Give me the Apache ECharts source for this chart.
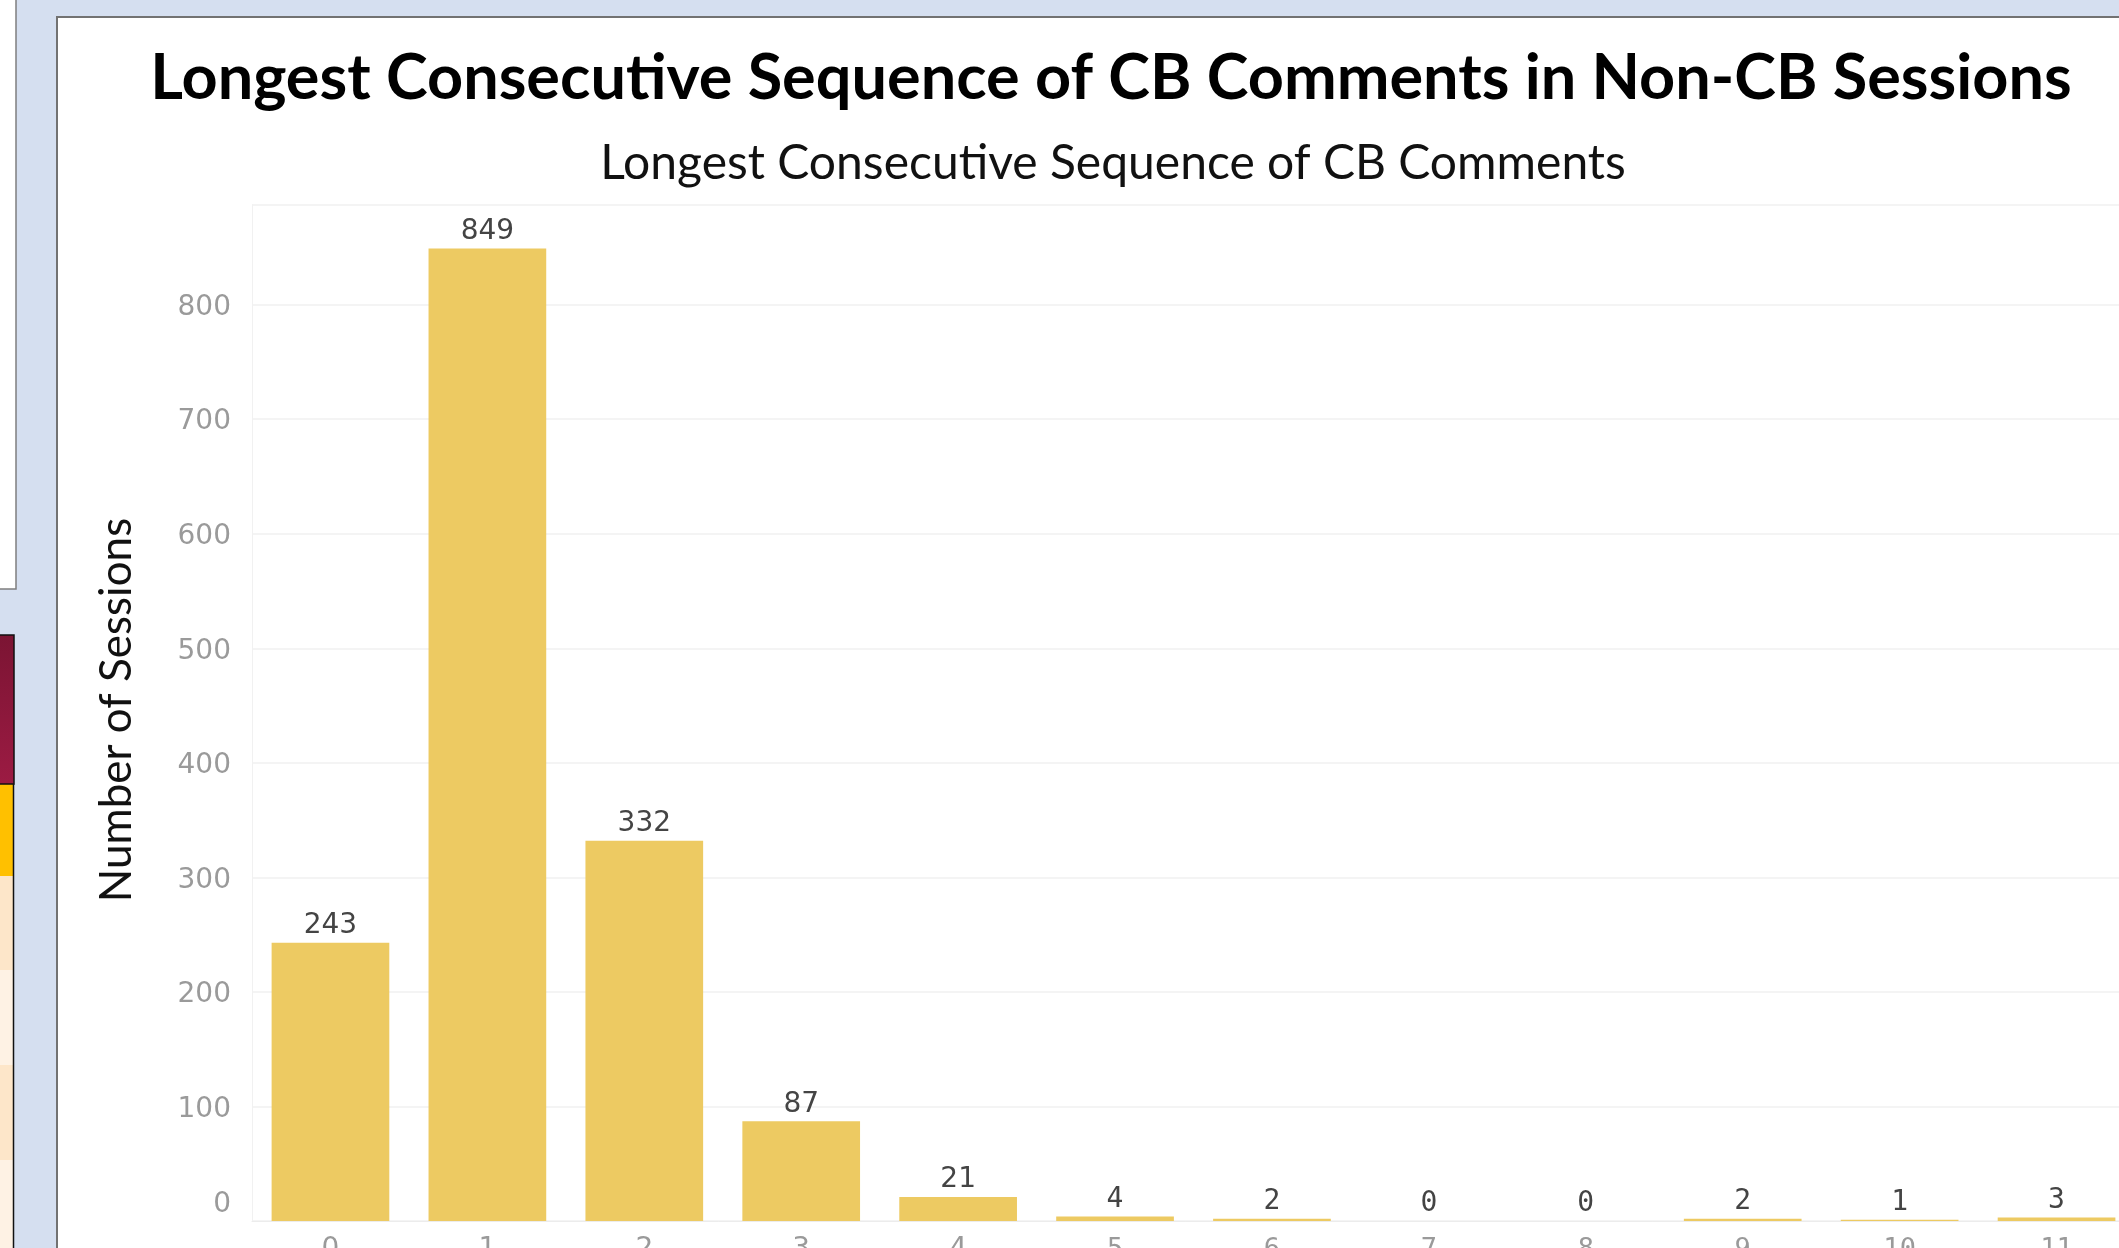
<!DOCTYPE html>
<html>
<head>
<meta charset="utf-8">
<title>Longest Consecutive Sequence of CB Comments in Non-CB Sessions</title>
<script src="https://cdn.jsdelivr.net/npm/echarts@6/dist/echarts.min.js"></script>
<style>
  html, body { margin: 0; padding: 0; background: #d5dff0; }
  #chart { width: 2119px; height: 1248px; }
</style>
</head>
<body>
<div id="chart"></div>
<script>
// Longest run of consecutive CB comments (x) and how many non-CB sessions had it (y)
const categories = ['0', '1', '2', '3', '4', '5', '6', '7', '8', '9', '10', '11'];
const sessionCounts = [243, 849, 332, 87, 21, 4, 2, 0, 0, 2, 1, 3];
const yTickValues = [0, 100, 200, 300, 400, 500, 600, 700, 800];

const mainTitle = 'Longest Consecutive Sequence of CB Comments in Non-CB Sessions';
const subTitle = 'Longest Consecutive Sequence of CB Comments';
const yAxisTitle = 'Number of Sessions';

const chart = echarts.init(document.getElementById('chart'), null, { renderer: 'canvas' });

const geoFont = '"DejaVu Sans", sans-serif';
const monoFont = '"DejaVu Sans Mono", monospace';
const barColor = '#edca62';

// slide furniture around the chart panel
const slideShapes = [
  // white sidebar panel, top-left
  { type: 'rect', shape: { x: -2, y: -2, width: 18, height: 591 },
    style: { fill: '#ffffff', stroke: '#7f7f7f', lineWidth: 1.5 }, z: 1 },
  // coloured side tabs
  { type: 'rect', shape: { x: -2, y: 635, width: 16, height: 149 },
    style: { fill: new echarts.graphic.LinearGradient(0, 0, 0, 1, [
      { offset: 0, color: '#7b1433' }, { offset: 1, color: '#9c1b43' }]),
      stroke: '#111111', lineWidth: 1.5 }, z: 2 },
  { type: 'rect', shape: { x: -2, y: 784, width: 15, height: 92 },
    style: { fill: '#ffc000' }, z: 1 },
  { type: 'rect', shape: { x: -2, y: 876, width: 15, height: 94 },
    style: { fill: '#fde6c9' }, z: 1 },
  { type: 'rect', shape: { x: -2, y: 970, width: 15, height: 95 },
    style: { fill: '#fef2e4' }, z: 1 },
  { type: 'rect', shape: { x: -2, y: 1065, width: 15, height: 95 },
    style: { fill: '#fde6c9' }, z: 1 },
  { type: 'rect', shape: { x: -2, y: 1160, width: 15, height: 95 },
    style: { fill: '#fef2e4' }, z: 1 },
  { type: 'line', shape: { x1: 13.5, y1: 784, x2: 13.5, y2: 1250 },
    style: { stroke: '#111111', lineWidth: 1.5 }, z: 2 },
  // main white panel holding the chart
  { type: 'rect', shape: { x: 57, y: 17, width: 2100, height: 1260 },
    style: { fill: '#ffffff', stroke: '#727272', lineWidth: 2 }, z: 0 },
  // headings
  { type: 'text', x: 1111, y: 79, z: 5,
    style: { text: mainTitle, fill: '#000000', font: 'bold 63px Lato, sans-serif',
      textAlign: 'center', textVerticalAlign: 'middle' } },
  { type: 'text', x: 1113, y: 164, z: 5,
    style: { text: subTitle, fill: '#111111', font: '48px Lato, sans-serif',
      textAlign: 'center', textVerticalAlign: 'middle' } },
  { type: 'text', x: 117, y: 710, rotation: Math.PI / 2, z: 5,
    style: { text: yAxisTitle, fill: '#111111', font: '44px Lato, sans-serif',
      textAlign: 'center', textVerticalAlign: 'middle' } }
];

const option = {
  backgroundColor: '#d5dff0',
  animation: false,
  graphic: { elements: slideShapes },
  grid: { left: 252, top: 205, width: 1883, height: 1016, outerBoundsMode: 'none', containLabel: false },
  xAxis: {
    type: 'category',
    data: categories,
    axisLine: { show: true, lineStyle: { color: '#ececec', width: 1 } },
    axisTick: { show: false },
    axisLabel: {
      margin: 15,
      color: '#9a9a9a',
      formatter: (v, i) => (i >= 5 ? '{m|' + v + '}' : '{g|' + v + '}'),
      rich: {
        g: { fontFamily: geoFont, fontSize: 28, color: '#9a9a9a' },
        m: { fontFamily: monoFont, fontSize: 27, color: '#9a9a9a' }
      }
    },
    z: 3
  },
  yAxis: {
    type: 'value',
    min: 0,
    max: 887,
    interval: 100,
    axisLine: { show: true, lineStyle: { color: '#f1f1f1', width: 1 } },
    axisTick: { show: false },
    splitLine: { show: true, lineStyle: { color: '#f0f0f0', width: 1.5 } },
    axisLabel: {
      margin: 21,
      showMaxLabel: false,
      formatter: v => (yTickValues.indexOf(v) < 0 ? '' : (v === 0 ? '{z|0}' : '{n|' + v + '}')),
      rich: {
        n: { fontFamily: geoFont, fontSize: 28, color: '#9a9a9a', padding: [0, 0, -6, 0] },
        z: { fontFamily: geoFont, fontSize: 28, color: '#9a9a9a', padding: [0, 0, 32, 0] }
      }
    },
    z: 3
  },
  series: [{
    type: 'bar',
    data: sessionCounts,
    barWidth: '75%',
    itemStyle: { color: barColor },
    label: {
      show: true,
      position: 'top',
      distance: 3,
      formatter: p => (p.dataIndex >= 5 ? '{m|' + p.value + '}' : '{g|' + p.value + '}'),
      rich: {
        g: { fontFamily: geoFont, fontSize: 28, color: '#444444' },
        m: { fontFamily: monoFont, fontSize: 28, color: '#444444' }
      }
    },
    z: 4
  }]
};

chart.setOption(option);
</script>
</body>
</html>
